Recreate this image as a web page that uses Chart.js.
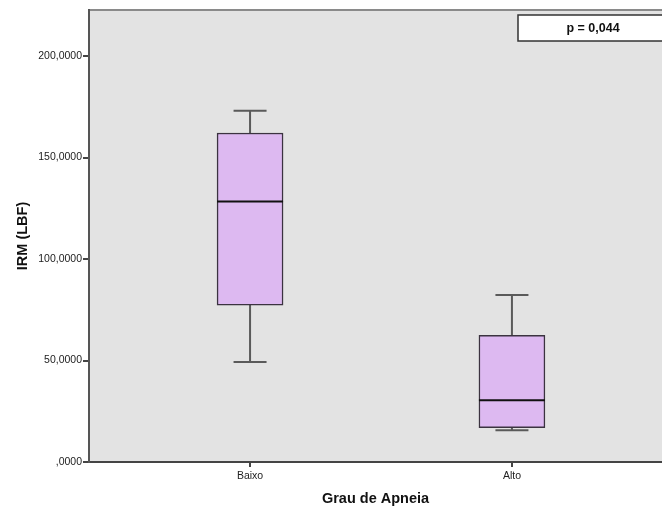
<!DOCTYPE html>
<html>
<head>
<meta charset="utf-8">
<script src="https://cdn.jsdelivr.net/npm/chart.js@4.4.1/dist/chart.umd.min.js"></script>
<style>
  html, body { margin: 0; padding: 0; background: #fff; }
  #wrap { width: 662px; height: 511px; position: relative; }
</style>
</head>
<body>
<div id="wrap"><canvas id="chart"></canvas></div>
<script>
// Grau de Apneia groups and box plot stats (IRM, LBF)
const categories = ['Baixo', 'Alto'];
const whiskerLow = [49.3, 15.6];
const q1 = [77.3, 16.9];
const median = [128.4, 30.4];
const q3 = [162.1, 62.4];
const whiskerHigh = [173.0, 82.3];
const yTicks = [0, 50, 100, 150, 200];
const pLabel = 'p = 0,044';

const boxFill = '#ddb9f1';
const boxEdge = '#3b3340';
const font = '"Liberation Sans", Arial, sans-serif';

const fmt = v => {
  const s = v.toFixed(4).replace('.', ',');
  return s.startsWith('0,') ? s.slice(1) : s;
};

const plotBg = {
  id: 'plotBg',
  beforeDraw(chart) {
    const { ctx, chartArea: a } = chart;
    ctx.save();
    ctx.fillStyle = '#e3e3e3';
    ctx.fillRect(a.left, a.top, a.right - a.left, a.bottom - a.top);
    ctx.strokeStyle = '#8a8a8a';
    ctx.lineWidth = 2;
    ctx.beginPath();
    ctx.moveTo(a.left, a.top);
    ctx.lineTo(a.right, a.top);
    ctx.stroke();
    ctx.restore();
  }
};

const whiskers = {
  id: 'whiskers',
  beforeDatasetsDraw(chart) {
    const { ctx, scales: { x, y } } = chart;
    ctx.save();
    ctx.strokeStyle = '#5a5a5a';
    ctx.lineWidth = 2;
    categories.forEach((c, i) => {
      const cx = x.getPixelForValue(i + 1);
      ctx.beginPath();
      ctx.moveTo(cx, y.getPixelForValue(whiskerHigh[i]));
      ctx.lineTo(cx, y.getPixelForValue(q3[i]));
      ctx.moveTo(cx, y.getPixelForValue(q1[i]));
      ctx.lineTo(cx, y.getPixelForValue(whiskerLow[i]));
      [whiskerHigh[i], whiskerLow[i]].forEach(v => {
        const py = y.getPixelForValue(v);
        ctx.moveTo(cx - 16.5, py);
        ctx.lineTo(cx + 16.5, py);
      });
      ctx.stroke();
    });
    ctx.restore();
  },
  afterDatasetsDraw(chart) {
    const { ctx, scales: { x, y } } = chart;
    ctx.save();
    ctx.strokeStyle = '#111';
    ctx.lineWidth = 2;
    categories.forEach((c, i) => {
      const cx = x.getPixelForValue(i + 1);
      const py = y.getPixelForValue(median[i]);
      ctx.beginPath();
      ctx.moveTo(cx - 33, py);
      ctx.lineTo(cx + 33, py);
      ctx.stroke();
    });
    // p-value box
    const a = chart.chartArea;
    ctx.fillStyle = '#fff';
    ctx.strokeStyle = '#333';
    ctx.lineWidth = 1.5;
    ctx.fillRect(a.left + 429, a.top + 5, 160, 26);
    ctx.strokeRect(a.left + 429, a.top + 5, 160, 26);
    ctx.fillStyle = '#111';
    ctx.font = 'bold 12.5px ' + font;
    ctx.textAlign = 'center';
    ctx.textBaseline = 'middle';
    ctx.fillText(pLabel, a.left + 504, a.top + 19);
    ctx.restore();
  }
};

new Chart(document.getElementById('chart'), {
  type: 'bar',
  data: {
    datasets: [{
      data: categories.map((c, i) => ({ x: i + 1, y: [q1[i], q3[i]] })),
      backgroundColor: boxFill,
      borderColor: boxEdge,
      borderWidth: 1.5,
      borderSkipped: false,
      barThickness: 66
    }]
  },
  options: {
    responsive: true,
    maintainAspectRatio: false,
    animation: false,
    layout: { padding: { top: 10, right: 0, left: 0, bottom: 0 } },
    plugins: { legend: { display: false }, tooltip: { enabled: false } },
    scales: {
      x: {
        type: 'linear',
        offset: false,
        min: 0.385,
        max: 2.573,
        afterBuildTicks: s => { s.ticks = categories.map((c, i) => ({ value: i + 1 })); },
        afterFit: s => { s.height = 49; },
        ticks: {
          callback: v => categories[v - 1] || '',
          color: '#222',
          font: { family: font, size: 10.5 },
          padding: 3,
          maxRotation: 0
        },
        grid: { offset: false, drawOnChartArea: false, drawTicks: true, tickLength: 5, color: '#444', lineWidth: 2 },
        border: { display: true, color: '#444', width: 2 },
        title: {
          display: true,
          text: 'Grau de Apneia',
          color: '#111',
          font: { family: font, size: 14.5, weight: 'bold' },
          padding: { top: 4, bottom: 3 }
        }
      },
      y: {
        min: 0,
        max: 222.7,
        afterBuildTicks: s => { s.ticks = yTicks.map(v => ({ value: v })); },
        afterFit: s => { s.width = 89; },
        ticks: {
          callback: v => fmt(v),
          color: '#222',
          font: { family: font, size: 10.5 },
          padding: 1
        },
        grid: { drawOnChartArea: false, drawTicks: true, tickLength: 6, color: '#444', lineWidth: 2 },
        border: { display: true, color: '#555', width: 2 },
        title: {
          display: true,
          text: 'IRM (LBF)',
          color: '#111',
          font: { family: font, size: 14.5, weight: 'bold' },
          padding: { top: 14, bottom: 0 }
        }
      }
    }
  },
  plugins: [plotBg, whiskers]
});
</script>
</body>
</html>
